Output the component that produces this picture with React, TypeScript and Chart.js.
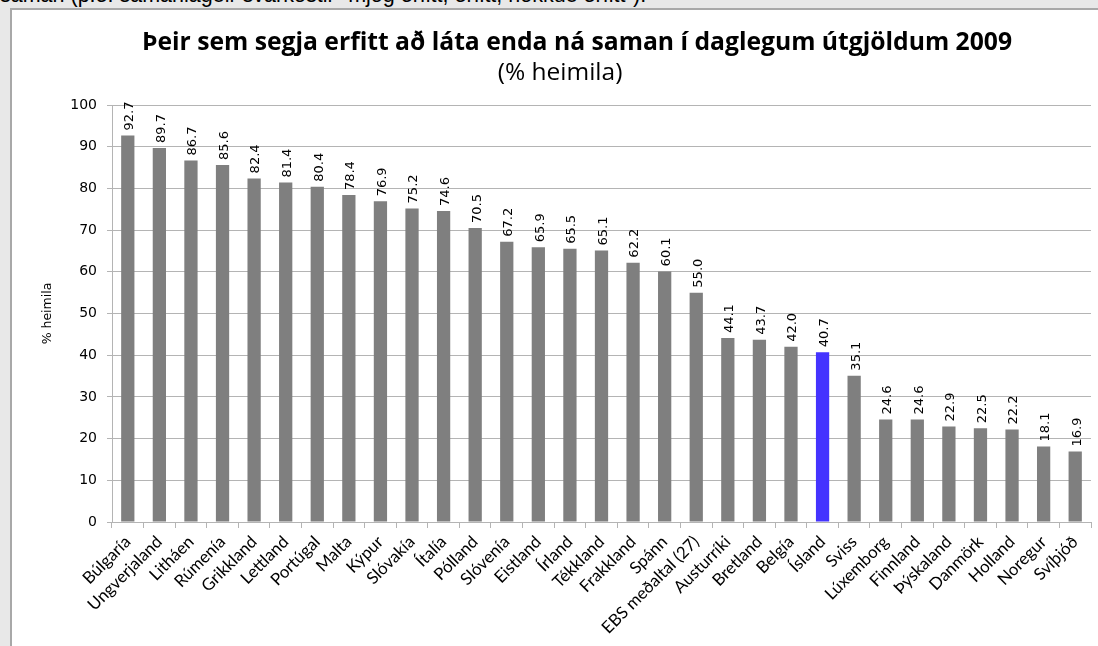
import React, { useEffect, useRef } from "react";
import { Chart, registerables } from "chart.js";

Chart.register(...registerables);

const categories = [
  "Búlgaría", "Ungverjaland", "Litháen", "Rúmenía", "Grikkland", "Lettland",
  "Portúgal", "Malta", "Kýpur", "Slóvakía", "Ítalía", "Pólland", "Slóvenía",
  "Eistland", "Írland", "Tékkland", "Frakkland", "Spánn", "EBS meðaltal (27)",
  "Austurríki", "Bretland", "Belgía", "Ísland", "Sviss", "Lúxemborg",
  "Finnland", "Þýskaland", "Danmörk", "Holland", "Noregur", "Svíþjóð",
];
const values = [
  92.7, 89.7, 86.7, 85.6, 82.4, 81.4, 80.4, 78.4, 76.9, 75.2, 74.6, 70.5, 67.2,
  65.9, 65.5, 65.1, 62.2, 60.1, 55.0, 44.1, 43.7, 42.0, 40.7, 35.1, 24.6, 24.6,
  22.9, 22.5, 22.2, 18.1, 16.9,
];
const highlight = "Ísland";
const yTicks = [0, 10, 20, 30, 40, 50, 60, 70, 80, 90, 100];

const titleText = "Þeir sem segja erfitt að láta enda ná saman í daglegum útgjöldum 2009";
const subtitleText = "(% heimila)";
const yTitle = "% heimila";
const topNote = 'saman (þ.e. samanlagðir svarkostir "mjög erfitt, erfitt, nokkuð erfitt").';

const GRAY = "#7f7f7f";
const BLUE = "#4433ff";
const GRID = "#b4b4b4";

const labelPlugin = {
  id: "barValueLabels",
  afterDatasetsDraw(chart: any) {
    const ctx = chart.ctx;
    const meta = chart.getDatasetMeta(0);
    const data = chart.data.datasets[0].data as number[];
    ctx.save();
    ctx.fillStyle = "#000";
    ctx.font = "13px 'DejaVu Sans'";
    ctx.textAlign = "left";
    ctx.textBaseline = "middle";
    meta.data.forEach((el: any, i: number) => {
      ctx.save();
      ctx.translate(el.x + 2, el.y - 5);
      ctx.rotate(-Math.PI / 2);
      ctx.fillText(data[i].toFixed(1), 0, 0);
      ctx.restore();
    });
    ctx.restore();
  },
};

const headerPlugin = {
  id: "header",
  afterDraw(chart: any) {
    const ctx = chart.ctx;
    const cx = chart.width / 2;
    ctx.save();
    ctx.fillStyle = "#000";
    ctx.textAlign = "center";
    ctx.textBaseline = "middle";
    ctx.font = "bold 24.7px 'Open Sans'";
    ctx.fillText(titleText, cx + 22, 33);
    ctx.font = "24.5px 'Open Sans'";
    ctx.fillText(subtitleText, cx + 5, 63);
    ctx.restore();
  },
};

export default function App() {
  const ref = useRef<HTMLCanvasElement | null>(null);
  useEffect(() => {
    if (!ref.current) return;
    const chart = new Chart(ref.current, {
      type: "bar",
      data: {
        labels: categories,
        datasets: [
          {
            data: values,
            backgroundColor: categories.map((c) => (c === highlight ? BLUE : GRAY)),
            borderWidth: 0,
            categoryPercentage: 1,
            barPercentage: 0.42,
          },
        ],
      },
      options: {
        animation: false,
        responsive: false,
        layout: { autoPadding: false, padding: { left: 0, right: 7, top: 95, bottom: 0 } } as any,
        plugins: {
          legend: { display: false },
          tooltip: { enabled: false },
          title: { display: false },
          subtitle: { display: false },
        },
        scales: {
          x: {
            type: "category",
            offset: true,
            grid: {
              offset: true,
              drawOnChartArea: false,
              drawTicks: true,
              tickLength: 6,
              color: GRID,
            },
            border: { display: true, color: GRID },
            ticks: {
              autoSkip: false,
              maxRotation: 45,
              minRotation: 45,
              padding: 4,
              color: "#000",
              font: { family: "Lato", size: 16.8 },
            },
            afterFit(scale: any) {
              scale.height = 124;
            },
          },
          y: {
            min: 0,
            max: 100,
            afterBuildTicks(scale: any) {
              scale.ticks = yTicks.map((v) => ({ value: v }));
            },
            grid: { color: GRID, tickLength: 5, lineWidth: 1 },
            border: { display: true, color: GRID },
            ticks: {
              padding: 10,
              color: "#000",
              font: { family: "DejaVu Sans", size: 14 },
            },
            title: {
              display: true,
              text: yTitle,
              color: "#000",
              font: { family: "DejaVu Sans", size: 12.5 },
              padding: { top: 28, bottom: 0 },
            },
            afterFit(scale: any) {
              scale.width = 100;
            },
          },
        },
      },
      plugins: [labelPlugin, headerPlugin],
    });
    return () => chart.destroy();
  }, []);

  return (
    <div
      style={{
        position: "fixed",
        left: 0,
        top: 0,
        width: 1098,
        height: 646,
        background: "#e8e8e8",
        overflow: "hidden",
      }}
    >
      <div
        style={{
          position: "absolute",
          left: 0,
          top: -17,
          whiteSpace: "nowrap",
          font: "21.5px 'Liberation Sans'",
          color: "#000",
        }}
      >
        {topNote}
      </div>
      <div
        style={{
          position: "absolute",
          left: 10,
          top: 8,
          width: 1086,
          height: 636,
          background: "#fff",
          borderLeft: "2px solid #a8a8a8",
          borderTop: "2px solid #a8a8a8",
        }}
      >
        <canvas ref={ref} width={1086} height={636} style={{ display: "block" }} />
      </div>
    </div>
  );
}
